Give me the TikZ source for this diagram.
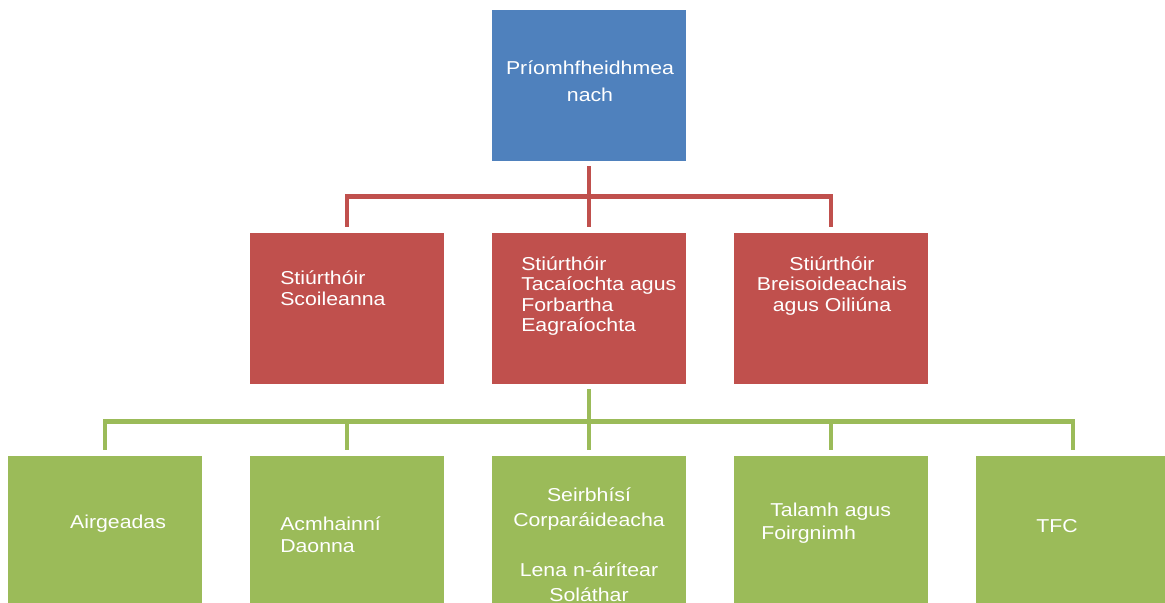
\documentclass[tikz,border=0pt]{standalone}
\usepackage{fontspec}
\setmainfont[FakeStretch=1.14]{Liberation Sans}
\usetikzlibrary{calc}
\definecolor{chiefblue}{HTML}{4F81BD}
\definecolor{dirred}{HTML}{C0504D}
\definecolor{unitgreen}{HTML}{9BBB59}
\tikzset{
  box/.style={rectangle, minimum width=145.5pt, minimum height=113.25pt, inner sep=0pt},
  lbl/.style={text=white, inner sep=0pt, font=\fontsize{14pt}{15.4pt}\selectfont},
  link/.style={line width=3.4pt, shorten <=3.75pt, shorten >=4.5pt},
}

\begin{document}
\begin{tikzpicture}[x=0.75pt,y=0.75pt]
    \useasboundingbox (0,0) rectangle (1165,603);
    \clip (0,0) rectangle (1165,603);
    % boxes
    \node[box,fill=chiefblue] (C0) at ( 589, 517.5) {};
    \node[box,fill=dirred]    (D1) at ( 347, 294.5) {};
    \node[box,fill=dirred]    (D2) at ( 589, 294.5) {};
    \node[box,fill=dirred]    (D3) at ( 831, 294.5) {};
    \node[box,fill=unitgreen] (U1) at ( 105,  71.5) {};
    \node[box,fill=unitgreen] (U2) at ( 347,  71.5) {};
    \node[box,fill=unitgreen] (U3) at ( 589,  71.5) {};
    \node[box,fill=unitgreen] (U4) at ( 831,  71.5) {};
    \node[box,fill=unitgreen] (U5) at (1073,  71.5) {};
    % texts
    \node[lbl,align=center,font=\fontsize{14pt}{20.25pt}\selectfont] (C0t) at (590, 521.5)
      {Príomhfheidhmea\\nach};
    \node[lbl,align=left,anchor=west] (D1t) at (280, 315) {Stiúrthóir\\Scoileanna};
    \node[lbl,align=left,anchor=west] (D2t) at (521, 307)
      {Stiúrthóir\\Tacaíochta agus\\Forbartha\\Eagraíochta};
    \node[lbl,align=center] (D3t) at (832, 317) {Stiúrthóir\\Breisoideachais\\agus Oiliúna};
    \node[lbl] (U1t) at (118, 79) {Airgeadas};
    \node[lbl,align=left,anchor=west,font=\fontsize{14pt}{16.5pt}\selectfont] (U2t) at (280, 68)
      {Acmhainní\\Daonna};
    \node[lbl,align=center,font=\fontsize{14pt}{18.75pt}\selectfont] (U3t) at (589, 58)
      {Seirbhísí\\Corparáideacha\\[18.75pt]Lena n-áirítear\\Soláthar};
    \node[lbl,align=left,anchor=west,font=\fontsize{14pt}{17.25pt}\selectfont] (U4t) at (761, 79.5)
      {\hspace*{6.75pt}Talamh agus\\Foirgnimh};
    \node[lbl] (U5t) at (1057, 77) {TFC};
    % connectors
    \begin{scope}[link, draw=dirred]
      \foreach \d in {D1,D2,D3}
        \draw (C0.south) -- ++(0,-35) -| (\d.north);
    \end{scope}
    \begin{scope}[link, draw=unitgreen]
      \foreach \u in {U1,U2,U3,U4,U5}
        \draw (D2.south) -- ++(0,-37) -| (\u.north);
    \end{scope}
\end{tikzpicture}
\end{document}
